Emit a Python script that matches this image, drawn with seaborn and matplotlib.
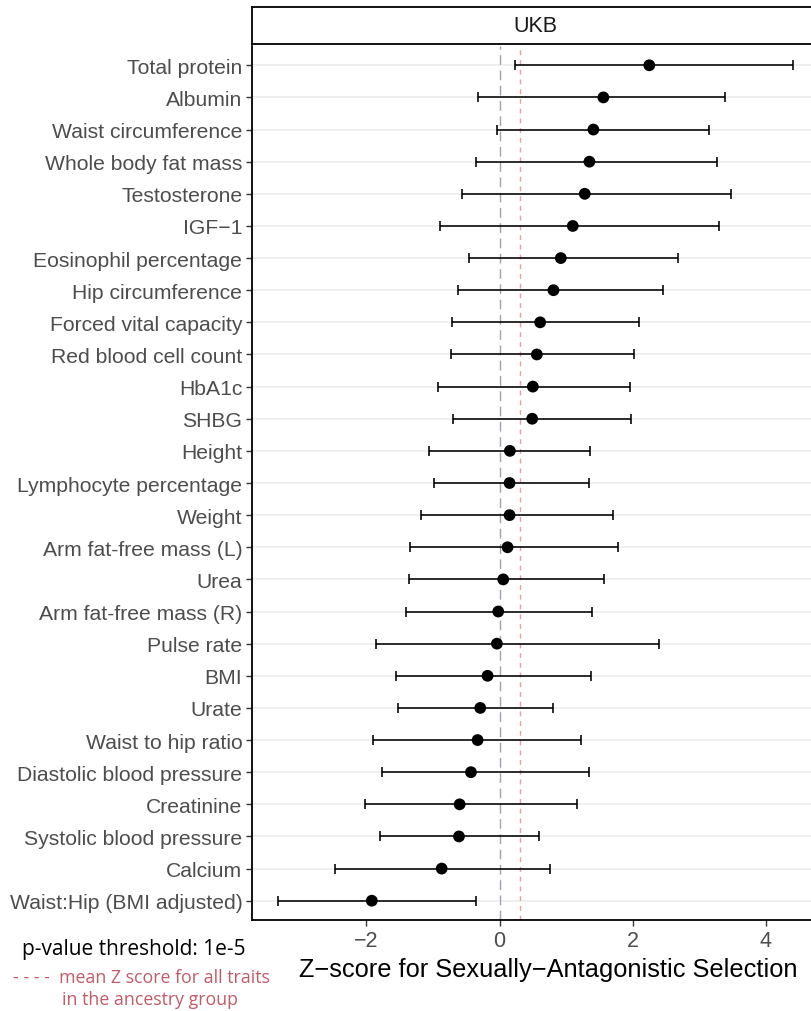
import matplotlib
matplotlib.use('Agg')
import matplotlib.pyplot as plt
import seaborn as sns
import numpy as np
import pandas as pd

# Data (top to bottom)
traits = [
    'Total protein', 'Albumin', 'Waist circumference', 'Whole body fat mass',
    'Testosterone', 'IGF\u22121', 'Eosinophil percentage', 'Hip circumference',
    'Forced vital capacity', 'Red blood cell count', 'HbA1c', 'SHBG', 'Height',
    'Lymphocyte percentage', 'Weight', 'Arm fat-free mass (L)', 'Urea',
    'Arm fat-free mass (R)', 'Pulse rate', 'BMI', 'Urate', 'Waist to hip ratio',
    'Diastolic blood pressure', 'Creatinine', 'Systolic blood pressure',
    'Calcium', 'Waist:Hip (BMI adjusted)',
]
z_score = [2.25, 1.56, 1.41, 1.35, 1.28, 1.10, 0.92, 0.81, 0.61, 0.56, 0.50,
           0.49, 0.155, 0.15, 0.15, 0.12, 0.055, -0.02, -0.04, -0.18, -0.29,
           -0.33, -0.43, -0.60, -0.61, -0.87, -1.92]
ci_low = [0.23, -0.32, -0.04, -0.35, -0.57, -0.90, -0.46, -0.62, -0.72, -0.73,
          -0.93, -0.70, -1.06, -0.99, -1.18, -1.35, -1.36, -1.41, -1.85, -1.55,
          -1.52, -1.90, -1.76, -2.02, -1.80, -2.47, -3.33]
ci_high = [4.41, 3.39, 3.14, 3.27, 3.48, 3.29, 2.68, 2.46, 2.09, 2.02, 1.96,
           1.97, 1.36, 1.34, 1.70, 1.78, 1.57, 1.39, 2.40, 1.38, 0.80, 1.23,
           1.35, 1.16, 0.59, 0.76, -0.36]
mean_z = 0.30
x_ticks = [-2, 0, 2, 4]

df = pd.DataFrame({'trait': traits, 'z': z_score, 'lo': ci_low, 'hi': ci_high})
df['pos'] = np.arange(len(df))

sns.set_theme(style='white')
plt.rcParams['font.family'] = ['Liberation Sans', 'DejaVu Sans']

W, H = 811, 1012
fig = plt.figure(figsize=(W / 100, H / 100), dpi=100)
ax = fig.add_axes([252 / W, 1 - 921 / H, (819 - 252) / W, (921 - 47) / H])

# horizontal grid at each trait
for p in df['pos']:
    ax.axhline(p, color='#ebebeb', lw=1.1, zorder=0)

ax.axvline(0, color='#a3a1b0', lw=1.0, dashes=(7, 4), zorder=1)
ax.axvline(mean_z, color='#e8a0a6', lw=1.0, dashes=(3.5, 3.5), zorder=1)

ax.errorbar(df['z'], df['pos'], xerr=[df['z'] - df['lo'], df['hi'] - df['z']],
            fmt='none', ecolor='black', elinewidth=1.15, capsize=3.4,
            capthick=1.15, zorder=2)
sns.scatterplot(data=df, x='z', y='pos', color='black', s=72,
                edgecolor='none', ax=ax, zorder=3)

ax.set_xlim(-3.72, 4.80)
ax.set_ylim(len(df) - 1 + 0.6, -0.6)
ax.set_yticks(df['pos'])
ax.set_yticklabels(df['trait'])
ax.set_xticks(x_ticks)
ax.set_xticklabels(['\u22122', '0', '2', '4'])
ax.tick_params(axis='y', length=4, width=1.0, color='#333333',
               labelsize=15.2, labelcolor='#4d4d4d', pad=3, left=True)
ax.tick_params(axis='x', length=4, width=1.0, color='#333333',
               labelsize=15.5, labelcolor='#4d4d4d', pad=3, bottom=True)
ax.set_ylabel('')
ax.set_xlabel('Z\u2212score for Sexually\u2212Antagonistic Selection',
              fontsize=18.3, color='black')
# title sits a bit right of the clipped panel centre in the reference
ax.xaxis.set_label_coords((548 - 252) / (819 - 252), -(970 - 921) / (921 - 47),
                          transform=ax.transAxes)
ax.xaxis.label.set_va('center')
for side in ['top', 'right']:
    ax.spines[side].set_visible(False)
for side in ['left', 'bottom']:
    ax.spines[side].set_color('black')
    ax.spines[side].set_linewidth(1.3)

# facet strip
strip = fig.add_axes([252 / W, 1 - 45 / H, (819 - 252) / W, 37 / H])
strip.set_xticks([])
strip.set_yticks([])
for s in strip.spines.values():
    s.set_color('black')
    s.set_linewidth(1.3)
strip.text(0.5, 0.5, 'UKB', ha='center', va='center', fontsize=15.5,
           color='#1a1a1a', transform=strip.transAxes)

# notes at bottom left
fig.text(22 / W, 1 - 950 / H, 'p-value threshold: 1e-5', fontsize=15.0,
         family='Open Sans', color='black', va='center', ha='left')
fig.text(13 / W, 1 - 978 / H, '- - - -  mean Z score for all traits',
         fontsize=12.8, family='Open Sans', color='#c25a68', va='center',
         ha='left')
fig.text(62 / W, 1 - 1000 / H, 'in the ancestry group', fontsize=12.8,
         family='Open Sans', color='#c25a68', va='center', ha='left')

fig.savefig('out.png', dpi=100)
